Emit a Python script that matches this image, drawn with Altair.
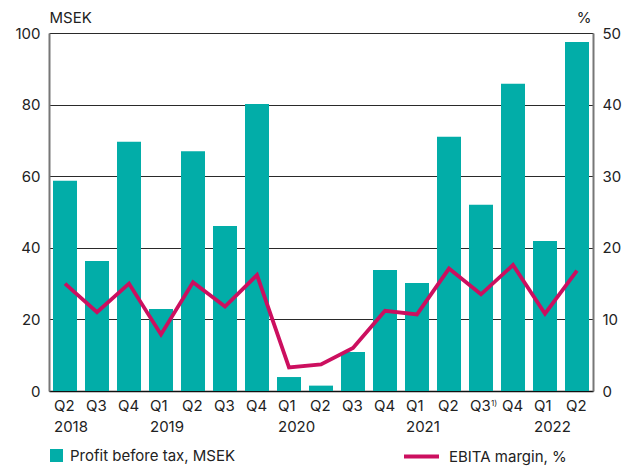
import altair as alt
import pandas as pd

quarters = ["Q2", "Q3", "Q4", "Q1", "Q2", "Q3", "Q4", "Q1", "Q2", "Q3", "Q4",
            "Q1", "Q2", "Q3", "Q4", "Q1", "Q2"]
years = ["2018"] * 3 + ["2019"] * 4 + ["2020"] * 4 + ["2021"] * 4 + ["2022"] * 2
profit = [58.7, 36.3, 69.6, 22.9, 67.0, 46.1, 80.2, 3.9, 1.5, 10.9, 33.8,
          30.2, 71.0, 52.0, 85.8, 41.9, 97.5]
ebita = [15.0, 11.0, 15.0, 7.9, 15.2, 11.8, 16.2, 3.3, 3.7, 6.0, 11.2,
         10.7, 17.1, 13.5, 17.6, 10.8, 16.8]
bar_name = "Profit before tax, MSEK"
line_name = "EBITA margin, %"
footnote_period = "Q3 2021"
footnote_text = "1)"

TEAL = "#02ADA8"
MAGENTA = "#CC0F5F"
FONT = "Inter"
TXT = "#222222"

periods = [f"{q} {y}" for q, y in zip(quarters, years)]
df = pd.DataFrame({"period": periods, "profit": profit, "ebita": ebita,
                   "bar_series": bar_name, "line_series": line_name})
note_df = pd.DataFrame({"period": [footnote_period], "note": [footnote_text]})

label_expr = ("(slice(datum.label,0,2)=='Q1' || datum.label=='Q2 2018') ? "
              "split(datum.label,' ') : slice(datum.label,0,2)")

x = alt.X("period:N", sort=periods,
          scale=alt.Scale(paddingInner=0.25, paddingOuter=0.125),
          axis=alt.Axis(title=None, labelExpr=label_expr, labelAngle=0,
                        labelAlign="left", labelOffset=-11, labelBaseline="top",
                        labelPadding=7, labelLineHeight=21, ticks=False,
                        domainColor="#111111", domainWidth=1.5,
                        labelFontSize=15, labelColor=TXT, labelFont=FONT))

bars = alt.Chart(df).mark_bar().encode(
    x=x,
    y=alt.Y("profit:Q", scale=alt.Scale(domain=[0, 100]),
            axis=alt.Axis(title="MSEK", titleAngle=0, titleAlign="left",
                          titleBaseline="bottom", titleX=0, titleY=-8,
                          titleFontWeight="normal", titleFontSize=15,
                          titleColor=TXT, titleFont=FONT,
                          values=[0, 20, 40, 60, 80, 100], ticks=False,
                          labelPadding=9, labelFontSize=15, labelColor=TXT,
                          labelFont=FONT, domainColor="#777777", domainWidth=2,
                          grid=True, gridColor="#2a2a2a", gridWidth=1)),
    fill=alt.Fill("bar_series:N",
                  scale=alt.Scale(domain=[bar_name], range=[TEAL]),
                  legend=alt.Legend(title=None, orient="none", legendX=0,
                                    legendY=415, symbolType="square",
                                    symbolSize=169, symbolStrokeWidth=0,
                                    labelFontSize=15, labelColor=TXT,
                                    labelFont=FONT, labelOffset=6, padding=0,
                                    labelLimit=400)),
)

line = alt.Chart(df).mark_line(strokeWidth=3.8).encode(
    x=x,
    y=alt.Y("ebita:Q", scale=alt.Scale(domain=[0, 50]),
            axis=alt.Axis(title="%", orient="right", titleAngle=0,
                          titleAlign="right", titleBaseline="bottom",
                          titleX=-2, titleY=-8, titleFontWeight="normal",
                          titleFontSize=15, titleColor=TXT, titleFont=FONT,
                          values=[0, 10, 20, 30, 40, 50], ticks=False,
                          labelPadding=9, labelFontSize=15, labelColor=TXT,
                          labelFont=FONT, domainColor="#777777", domainWidth=2,
                          grid=False)),
    stroke=alt.Stroke("line_series:N",
                      scale=alt.Scale(domain=[line_name], range=[MAGENTA]),
                      legend=alt.Legend(title=None, orient="none", legendX=353,
                                        legendY=404, symbolType="stroke",
                                        symbolSize=1225, symbolStrokeWidth=4,
                                        labelFontSize=15, labelColor=TXT,
                                        labelFont=FONT, labelOffset=8, padding=0,
                                        labelLimit=400)),
)

note = alt.Chart(note_df).mark_text(fontSize=8, align="left", baseline="top",
                                    dx=10, color=TXT, font=FONT).encode(
    x=alt.X("period:N", sort=periods),
    y=alt.value(367),
    text="note:N",
)

chart = alt.layer(bars, line, note).resolve_scale(y="independent").properties(
    width=544, height=358,
    autosize=alt.AutoSizeParams(type="none"),
    padding={"left": 49, "top": 33, "right": 31, "bottom": 75},
).configure_view(stroke=None)

chart.save("out.html", embed_options={"renderer": "svg", "actions": False})
